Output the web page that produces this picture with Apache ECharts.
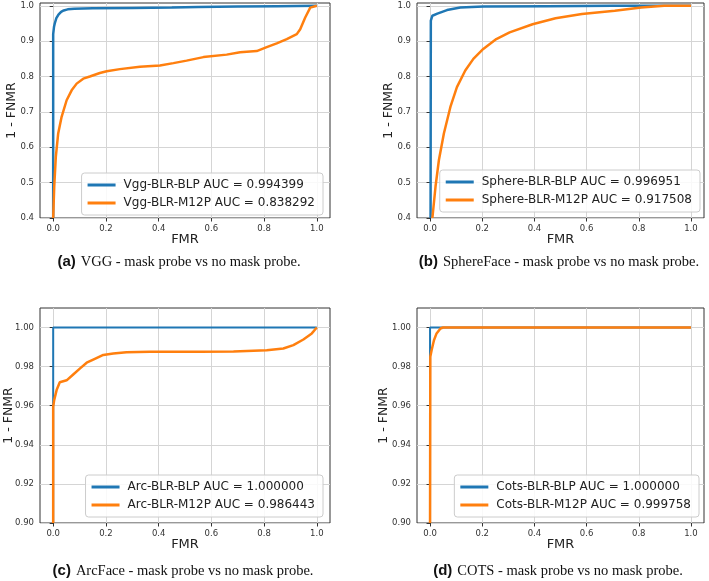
<!DOCTYPE html>
<html>
<head>
<meta charset="utf-8">
<script src="https://cdn.jsdelivr.net/npm/echarts@6/dist/echarts.min.js"></script>
<style>
html,body{margin:0;padding:0;background:#fff;}
#chart{width:709px;height:581px;}
</style>
</head>
<body>
<div id="chart"></div>
<script>
// ---- tick labels ----
const xTicks = [0, 0.2, 0.4, 0.6, 0.8, 1.0];
const yTicksTop = [0.4, 0.5, 0.6, 0.7, 0.8, 0.9, 1.0];
const yTicksBottom = [0.90, 0.92, 0.94, 0.96, 0.98, 1.00];

// ---- legend names ----
const namesA = ['Vgg-BLR-BLP AUC = 0.994399', 'Vgg-BLR-M12P AUC = 0.838292'];
const namesB = ['Sphere-BLR-BLP AUC = 0.996951', 'Sphere-BLR-M12P AUC = 0.917508'];
const namesC = ['Arc-BLR-BLP AUC = 1.000000', 'Arc-BLR-M12P AUC = 0.986443'];
const namesD = ['Cots-BLR-BLP AUC = 1.000000', 'Cots-BLR-M12P AUC = 0.999758'];

// ---- captions ----
const captions = [
  ['(a)', 'VGG - mask probe vs no mask probe.'],
  ['(b)', 'SphereFace - mask probe vs no mask probe.'],
  ['(c)', 'ArcFace - mask probe vs no mask probe.'],
  ['(d)', 'COTS - mask probe vs no mask probe.']
];

// ---- series values [FMR, 1-FNMR] ----
const vggBLP = [[0,0.4],[0,0.92],[0.003,0.94],[0.006,0.95],[0.012,0.965],[0.02,0.975],[0.03,0.983],[0.04,0.987],[0.055,0.99],[0.08,0.992],[0.15,0.993],[0.3,0.994],[0.45,0.995],[0.55,0.997],[0.7,0.998],[0.85,0.999],[1,1]];
const vggM12P = [[0,0.4],[0.004,0.489],[0.01,0.573],[0.019,0.639],[0.032,0.686],[0.051,0.733],[0.07,0.761],[0.089,0.78],[0.114,0.794],[0.139,0.8],[0.177,0.81],[0.203,0.815],[0.253,0.821],[0.329,0.828],[0.405,0.831],[0.456,0.838],[0.506,0.845],[0.57,0.855],[0.658,0.862],[0.709,0.869],[0.772,0.872],[0.81,0.883],[0.848,0.894],[0.886,0.906],[0.924,0.92],[0.937,0.934],[0.956,0.967],[0.975,0.995],[0.981,1.0],[1,1]];
const sphereBLP = [[0.002,0.4],[0.003,0.958],[0.009,0.972],[0.028,0.978],[0.065,0.988],[0.116,0.995],[0.204,0.998],[0.45,0.999],[0.7,1],[1,1]];
const sphereM12P = [[0.009,0.4],[0.021,0.489],[0.034,0.564],[0.053,0.639],[0.078,0.714],[0.103,0.77],[0.135,0.817],[0.166,0.85],[0.204,0.878],[0.254,0.906],[0.305,0.925],[0.393,0.948],[0.481,0.965],[0.582,0.977],[0.708,0.986],[0.809,0.995],[0.897,1.0],[1,1]];
const arcBLP = [[0,0.9],[0,1],[1,1]];
const arcM12P = [[0,0.9],[0,0.9595],[0.004,0.963],[0.013,0.968],[0.025,0.972],[0.051,0.973],[0.076,0.976],[0.101,0.979],[0.127,0.982],[0.158,0.984],[0.19,0.986],[0.228,0.9867],[0.278,0.9874],[0.367,0.9876],[0.557,0.9876],[0.684,0.9878],[0.81,0.9884],[0.873,0.9893],[0.911,0.991],[0.949,0.9939],[0.981,0.997],[1,1]];
const cotsBLP = [[0,0.9],[0,1],[1,1]];
const cotsM12P = [[0,0.9],[0.001,0.985],[0.006,0.9884],[0.015,0.9935],[0.025,0.997],[0.04,0.9995],[0.05,1],[1,1]];

const BLUE = '#1f77b4', ORANGE = '#ff7f0e';
const FONT = 'DejaVu Sans';

const grids = [
  {left: 40, top: 3, width: 290, height: 215},
  {left: 417, top: 3, width: 287, height: 215},
  {left: 40, top: 308, width: 290, height: 215},
  {left: 417, top: 308, width: 287, height: 215}
].map(g => Object.assign(g, {show: true, borderColor: '#333', borderWidth: 1, backgroundColor: '#fff',
  containLabel: false, outerBoundsMode: 'none'}));

const gridLine = {show: true, lineStyle: {color: '#d5d5d5', width: 1}};

function xAxis(i) {
  return {
    type: 'value', gridIndex: i, min: -0.05, max: 1.05,
    name: 'FMR', nameLocation: 'middle', nameGap: 15, nameMoveOverlap: false,
    nameTextStyle: {fontFamily: FONT, fontSize: 13, color: '#222'},
    axisLine: {show: false},
    axisTick: {show: true, length: 3.5, lineStyle: {color: '#333'}, customValues: xTicks},
    axisLabel: {customValues: xTicks, fontFamily: FONT, fontSize: 8.5, color: '#333', margin: 6,
      formatter: v => v.toFixed(1)},
    splitLine: gridLine
  };
}
function yAxis(i, ticks, min, max, dec, gap) {
  return {
    type: 'value', gridIndex: i, min: min, max: max,
    name: '1 - FNMR', nameLocation: 'middle', nameGap: gap, nameRotate: 90, nameMoveOverlap: false,
    nameTextStyle: {fontFamily: FONT, fontSize: 12.5, color: '#222'},
    axisLine: {show: false},
    axisTick: {show: true, length: 3.5, lineStyle: {color: '#333'}, customValues: ticks},
    axisLabel: {customValues: ticks, fontFamily: FONT, fontSize: 8.5, color: '#333', margin: 6,
      formatter: v => v.toFixed(dec)},
    splitLine: gridLine
  };
}

function legend(names, right, bottom) {
  return {
    data: names, orient: 'vertical', right: right, bottom: bottom,
    icon: 'rect', itemWidth: 28, itemHeight: 3, itemGap: 6,
    padding: [6, 8, 6, 6],
    borderColor: '#ccc', borderWidth: 1, borderRadius: 3,
    backgroundColor: 'rgba(255,255,255,0.85)',
    selectedMode: false,
    textStyle: {fontFamily: FONT, fontSize: 12, color: '#222', padding: [0, 0, 0, 3]}
  };
}

function line(name, data, i, color, width, z) {
  return {
    type: 'line', name: name, data: data, xAxisIndex: i, yAxisIndex: i,
    showSymbol: false, symbol: 'none', smooth: false, clip: true,
    lineStyle: {color: color, width: width}, itemStyle: {color: color},
    z: z, animation: false
  };
}

const capCenters = [[174, 248], [554, 248], [178, 557], [553, 557]];
const titles = captions.map((c, i) => ({
  text: '{a|' + c[0] + '} {b|' + c[1] + '}',
  left: capCenters[i][0], top: capCenters[i][1], textAlign: 'center',
  textStyle: {
    fontWeight: 'normal',
    rich: {
      a: {fontFamily: 'Liberation Sans', fontWeight: 'bold', fontSize: 15, color: '#111'},
      b: {fontFamily: 'Liberation Serif', fontWeight: 'normal', fontSize: 14.5, color: '#111'}
    }
  }
}));

const option = {
  animation: false,
  backgroundColor: '#fff',
  title: titles,
  grid: grids,
  xAxis: [xAxis(0), xAxis(1), xAxis(2), xAxis(3)],
  yAxis: [
    yAxis(0, yTicksTop, 0.4, 1.008, 1, 22),
    yAxis(1, yTicksTop, 0.4, 1.008, 1, 22),
    yAxis(2, yTicksBottom, 0.9, 1.01, 2, 25),
    yAxis(3, yTicksBottom, 0.9, 1.01, 2, 27)
  ],
  legend: [
    legend(namesA, 386, 366),
    legend(namesB, 9, 369),
    legend(namesC, 386, 64),
    legend(namesD, 10, 64)
  ],
  series: [
    line(namesA[0], vggBLP, 0, BLUE, 2.5, 2),
    line(namesA[1], vggM12P, 0, ORANGE, 2.5, 3),
    line(namesB[0], sphereBLP, 1, BLUE, 2.5, 2),
    line(namesB[1], sphereM12P, 1, ORANGE, 2.5, 3),
    line(namesC[0], arcBLP, 2, BLUE, 2, 2),
    line(namesC[1], arcM12P, 2, ORANGE, 2.5, 3),
    line(namesD[0], cotsBLP, 3, BLUE, 2, 2),
    line(namesD[1], cotsM12P, 3, ORANGE, 2.5, 3)
  ]
};

const chart = echarts.init(document.getElementById('chart'), null, {renderer: 'canvas'});
chart.setOption(option);
</script>
</body>
</html>
